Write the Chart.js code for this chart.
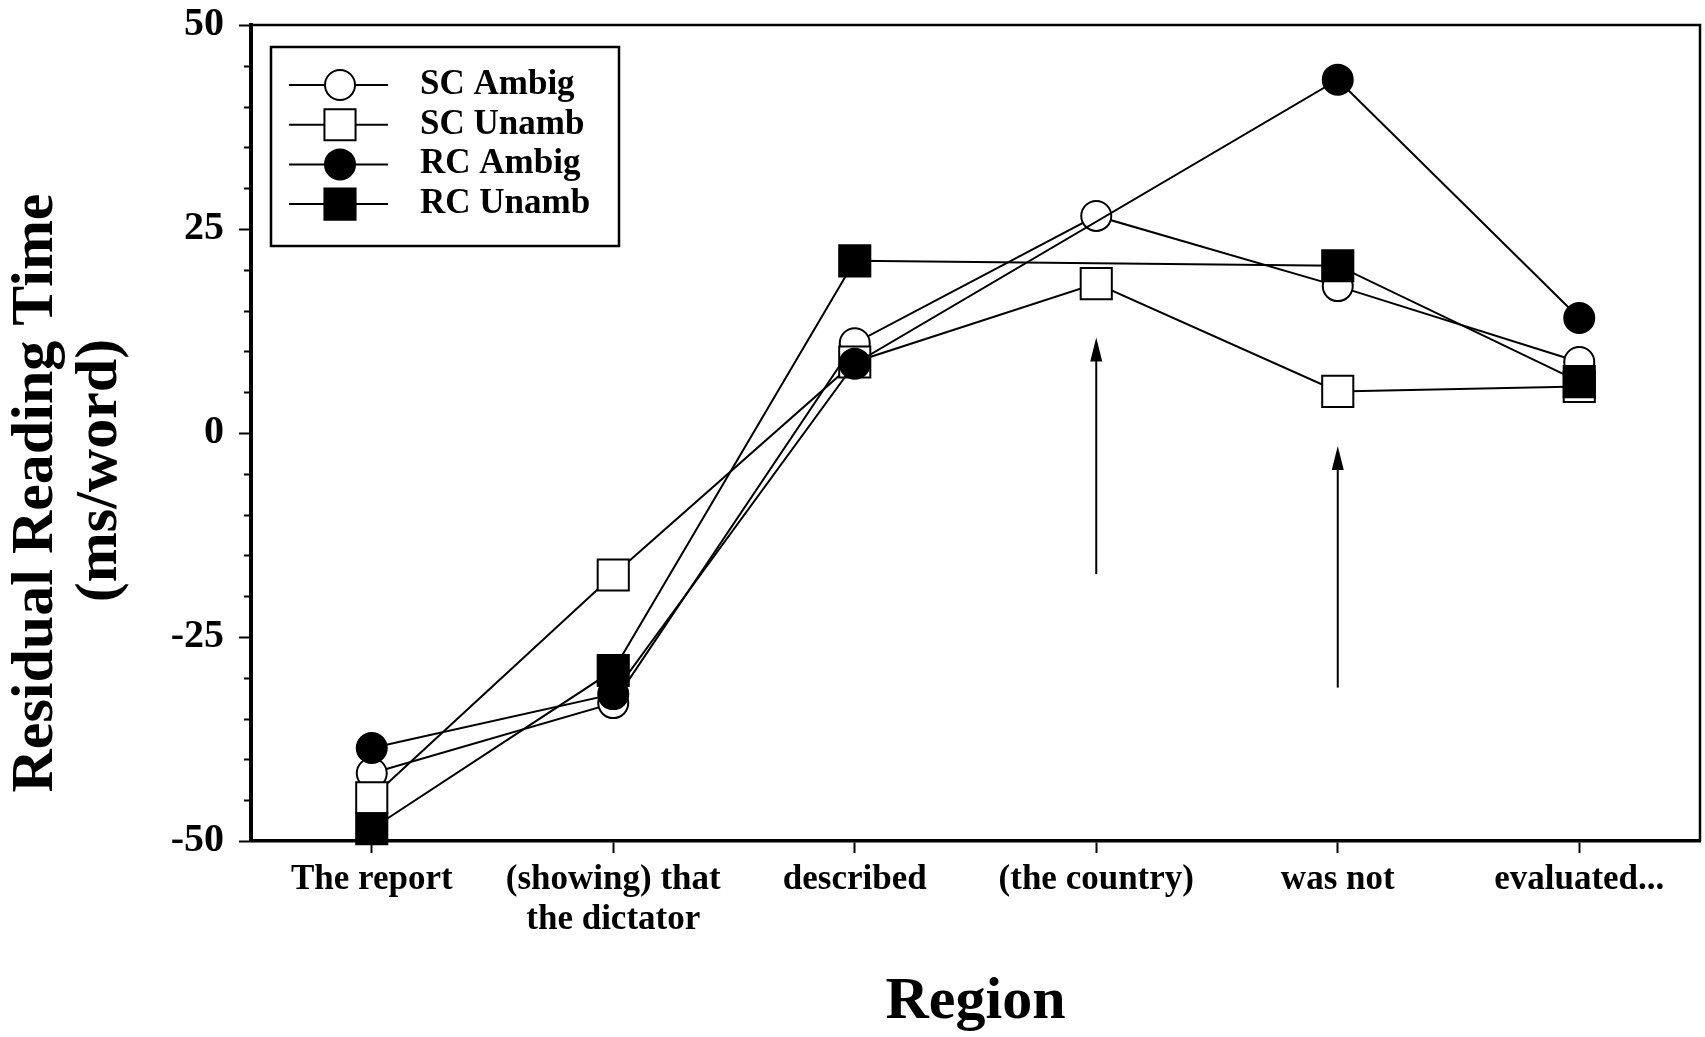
<!DOCTYPE html>
<html>
<head>
<meta charset="utf-8">
<script src="https://cdn.jsdelivr.net/npm/chart.js@4.4.0/dist/chart.umd.min.js"></script>
<style>
  html, body { margin: 0; padding: 0; background: #fff; }
</style>
</head>
<body>
<canvas id="myChart" width="1705" height="1037"></canvas>
<script>
// Regions of the sentence (x axis)
const regions = ['The report', ['(showing) that', 'the dictator'], 'described', '(the country)', 'was not', 'evaluated...'];

// Residual reading time (ms/word) per condition
const scAmbig = [-41.7, -33.1, 11.0, 26.6, 18.0, 8.7];
const scUnamb = [-44.7, -17.4, 8.7, 18.3, 5.1, 5.7];
const rcAmbig = [-38.6, -32.0, 8.5, null, 43.3, 14.1];
const rcUnamb = [-48.5, -29.1, 21.1, null, 20.5, 6.3];

// y axis tick labels and minor tick step
const yTickLabels = [-50, -25, 0, 25, 50];
const yMinorStep = 5;

// arrows under the critical regions: region index, tail value, tip value
const arrows = [
  { region: 3, from: -17.3, to: 11.7 },
  { region: 4, from: -31.2, to: -1.6 }
];

const serif = '"Liberation Serif", "Times New Roman", serif';

// small minor ticks on the y axis
const minorTicks = {
  id: 'minorTicks',
  afterDraw(chart) {
    const { ctx, chartArea, scales } = chart;
    const y = scales.y;
    ctx.save();
    ctx.strokeStyle = '#000';
    ctx.lineWidth = 2;
    for (let v = y.min; v <= y.max; v += yMinorStep) {
      if (yTickLabels.includes(v)) continue;
      const py = Math.round(y.getPixelForValue(v)) + 0.5;
      ctx.beginPath();
      ctx.moveTo(chartArea.left - 7, py);
      ctx.lineTo(chartArea.left, py);
      ctx.stroke();
    }
    ctx.restore();
  }
};

// thin top and right frame lines
const frame = {
  id: 'frame',
  afterDraw(chart) {
    const { ctx, chartArea } = chart;
    ctx.save();
    ctx.strokeStyle = '#000';
    ctx.lineWidth = 2.5;
    ctx.beginPath();
    ctx.moveTo(chartArea.left, chartArea.top);
    ctx.lineTo(chartArea.right, chartArea.top);
    ctx.lineTo(chartArea.right, chartArea.bottom);
    ctx.stroke();
    ctx.restore();
  }
};

// the two arrows
const arrowMarks = {
  id: 'arrowMarks',
  afterDatasetsDraw(chart) {
    const { ctx, scales } = chart;
    ctx.save();
    ctx.strokeStyle = '#000';
    ctx.fillStyle = '#000';
    ctx.lineWidth = 2;
    arrows.forEach(a => {
      const px = scales.x.getPixelForValue(a.region);
      const y0 = scales.y.getPixelForValue(a.from);
      const y1 = scales.y.getPixelForValue(a.to);
      ctx.beginPath();
      ctx.moveTo(px, y0);
      ctx.lineTo(px, y1 + 20);
      ctx.stroke();
      ctx.beginPath();
      ctx.moveTo(px, y1);
      ctx.lineTo(px - 6, y1 + 24);
      ctx.lineTo(px + 6, y1 + 24);
      ctx.closePath();
      ctx.fill();
    });
    ctx.restore();
  }
};

// boxed legend with line-through-marker symbols
const legendBox = {
  id: 'legendBox',
  afterDraw(chart) {
    const { ctx, chartArea } = chart;
    const x = chartArea.left + 20, y = chartArea.top + 22, w = 348, h = 199;
    ctx.save();
    ctx.fillStyle = '#fff';
    ctx.fillRect(x, y, w, h);
    ctx.strokeStyle = '#000';
    ctx.lineWidth = 2.5;
    ctx.strokeRect(x, y, w, h);
    chart.data.datasets.forEach((ds, i) => {
      const cy = y + 38 + i * 39.7;
      ctx.lineWidth = 2;
      ctx.beginPath();
      ctx.moveTo(x + 18, cy);
      ctx.lineTo(x + 117, cy);
      ctx.stroke();
      ctx.fillStyle = ds.pointBackgroundColor;
      ctx.lineWidth = ds.pointBorderWidth;
      Chart.helpers.drawPoint(ctx, {
        pointStyle: ds.pointStyle, radius: ds.pointRadius, rotation: 0, borderWidth: ds.pointBorderWidth
      }, x + 69, cy);
      ctx.fillStyle = '#000';
      ctx.font = 'bold 35px ' + serif;
      ctx.textBaseline = 'middle';
      ctx.textAlign = 'left';
      ctx.fillText(ds.label, x + 149, cy);
    });
    ctx.restore();
  }
};

function series(label, data, style, filled, radius, order) {
  return {
    label: label,
    data: data,
    order: order,
    borderColor: '#000',
    borderWidth: 2,
    pointStyle: style,
    pointRadius: radius,
    pointHoverRadius: radius,
    pointBorderWidth: 2,
    pointBorderColor: '#000',
    pointBackgroundColor: filled ? '#000' : '#fff',
    spanGaps: true,
    tension: 0,
    clip: false
  };
}

// keep the plot box where the original has it
function noPadding(scale) {
  scale.paddingLeft = 0;
  scale.paddingRight = 0;
  scale.paddingTop = 0;
  scale.paddingBottom = 0;
}

const ctx = document.getElementById('myChart');

new Chart(ctx, {
  type: 'line',
  data: {
    labels: regions,
    datasets: [
      series('SC Ambig', scAmbig, 'circle', false, 15, 4),
      series('SC Unamb', scUnamb, 'rect', false, 22, 3),
      series('RC Ambig', rcAmbig, 'circle', true, 15, 2),
      series('RC Unamb', rcUnamb, 'rect', true, 22, 1)
    ]
  },
  options: {
    responsive: false,
    animation: false,
    layout: { autoPadding: false, padding: { top: 25, right: 5, left: 0, bottom: 0 } },
    plugins: {
      legend: { display: false },
      tooltip: { enabled: false }
    },
    scales: {
      x: {
        type: 'category',
        offset: true,
        afterFit: scale => { scale.height = 196; noPadding(scale); },
        border: { display: true, color: '#000', width: 3.5 },
        grid: { display: true, drawOnChartArea: false, tickLength: 12, tickWidth: 2, tickColor: '#000' },
        ticks: {
          color: '#000',
          padding: 7,
          maxRotation: 0,
          autoSkip: false,
          font: { family: serif, size: 35, weight: 'bold', lineHeight: 1.15 }
        },
        title: {
          display: true,
          text: 'Region',
          color: '#000',
          padding: { top: 0, bottom: 5 },
          font: { family: serif, size: 60, weight: 'bold', lineHeight: 1 }
        }
      },
      y: {
        min: yTickLabels[0],
        max: yTickLabels[yTickLabels.length - 1],
        afterFit: scale => { scale.width = 251; noPadding(scale); },
        afterBuildTicks: scale => { scale.ticks = yTickLabels.map(v => ({ value: v })); },
        border: { display: true, color: '#000', width: 4 },
        grid: { display: true, drawOnChartArea: false, tickLength: 12, tickWidth: 2, tickColor: '#000' },
        ticks: {
          color: '#000',
          padding: 15,
          font: { family: serif, size: 40, weight: 'bold' }
        },
        title: {
          display: true,
          // trailing spaces push the centred lines a little below the axis middle, as in the original
          text: ['Residual Reading Time        ', '(ms/word)     '],
          color: '#000',
          padding: { top: 4, bottom: 0 },
          font: { family: serif, size: 60, weight: 'bold', lineHeight: 1.067 }
        }
      }
    }
  },
  plugins: [minorTicks, frame, arrowMarks, legendBox]
});
</script>
</body>
</html>
